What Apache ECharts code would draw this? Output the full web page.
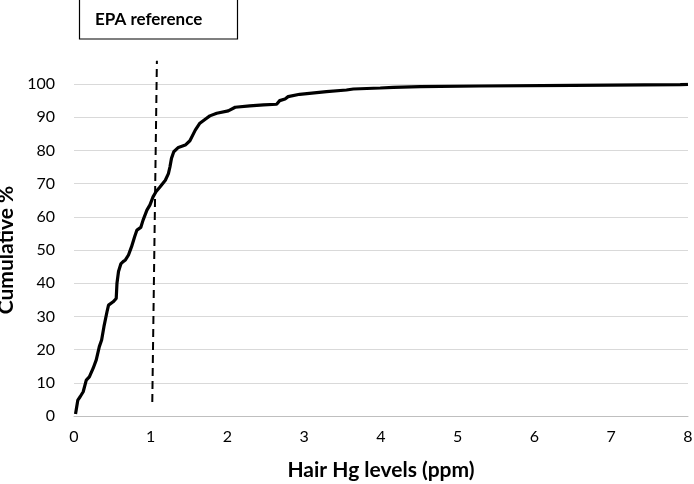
<!DOCTYPE html>
<html>
<head>
<meta charset="utf-8">
<script src="https://cdn.jsdelivr.net/npm/echarts@6/dist/echarts.min.js"></script>
<style>html,body{margin:0;padding:0;background:#fff;}#c{width:694px;height:484px;}</style>
</head>
<body>
<div id="c"></div>
<script>
const hgLevels = [0.02,0.05,0.08,0.12,0.16,0.20,0.25,0.29,0.33,0.36,0.39,0.43,0.45,0.51,0.55,0.56,0.58,0.61,0.64,0.67,0.71,0.75,0.79,0.82,0.87,0.90,0.95,0.99,1.03,1.07,1.12,1.19,1.23,1.25,1.27,1.30,1.36,1.45,1.51,1.58,1.64,1.71,1.77,1.86,2.01,2.10,2.29,2.47,2.64,2.68,2.75,2.79,2.94,3.29,3.55,3.64,3.99,4.16,4.51,5.29,6.5,7.9,8.0];
const cumulativePct = [0.6,4.8,5.8,7.3,10.8,11.8,14.4,16.9,20.9,22.9,26.9,31.4,33.4,34.4,35.4,40.0,43.5,45.8,46.5,47.0,48.5,51.0,54.0,56.0,56.8,59.0,62.0,63.6,66.0,67.6,69.0,71.0,73.0,75.0,77.6,79.6,80.9,81.6,82.9,86.1,88.2,89.4,90.4,91.2,91.9,93.0,93.4,93.7,93.9,95.0,95.5,96.2,96.9,97.7,98.2,98.5,98.8,99.0,99.2,99.4,99.6,99.8,99.9];
const epaX = [1.02, 1.08];
const epaY = [4.2, 107];
const xTicks = [0,1,2,3,4,5,6,7,8];
const yTicks = [0,10,20,30,40,50,60,70,80,90,100];
const xTitle = 'Hair Hg levels (ppm)';
const yTitle = 'Cumulative %';
const boxLabel = 'EPA reference';

const font = 'Lato, "Open Sans", sans-serif';
const chart = echarts.init(document.getElementById('c'), null, {renderer:'canvas'});
chart.setOption({
  animation:false,
  backgroundColor:'#fff',
  grid:{left:74,right:6,top:84,bottom:68,containLabel:false,outerBoundsMode:'none'},
  xAxis:{
    type:'value', min:xTicks[0], max:xTicks[xTicks.length-1], interval:1,
    axisLine:{show:true,lineStyle:{color:'#bfbfbf',width:1}},
    axisTick:{show:false}, splitLine:{show:false},
    axisLabel:{color:'#000',fontSize:16,fontFamily:font,margin:13},
    name:xTitle, nameLocation:'middle', nameGap:44,
    nameTextStyle:{color:'#000',fontSize:21,fontWeight:'bold',fontFamily:font}
  },
  yAxis:{
    type:'value', min:yTicks[0], max:yTicks[yTicks.length-1], interval:10,
    axisLine:{show:false}, axisTick:{show:false},
    splitLine:{lineStyle:{color:'#d9d9d9',width:1}},
    axisLabel:{color:'#000',fontSize:16,fontFamily:font,margin:19},
    name:yTitle, nameLocation:'middle', nameGap:52, nameRotate:90,
    nameTextStyle:{color:'#000',fontSize:21,fontWeight:'bold',fontFamily:font}
  },
  graphic:[
    {type:'rect',shape:{x:79.5,y:-1,width:158,height:40},style:{fill:'#fff',stroke:'#000',lineWidth:1.2}},
    {type:'text',x:95,y:20,style:{text:boxLabel,fill:'#000',font:'bold 17px '+font,verticalAlign:'middle'}}
  ],
  series:[
    {type:'line',data:hgLevels.map((v,i)=>[v,cumulativePct[i]]),showSymbol:false,smooth:false,
     lineStyle:{color:'#000',width:3.2},z:3},
    {type:'line',data:epaX.map((v,i)=>[v,epaY[i]]),showSymbol:false,clip:false,
     lineStyle:{color:'#000',width:2,type:[8,5]},z:2}
  ]
});
</script>
</body>
</html>
